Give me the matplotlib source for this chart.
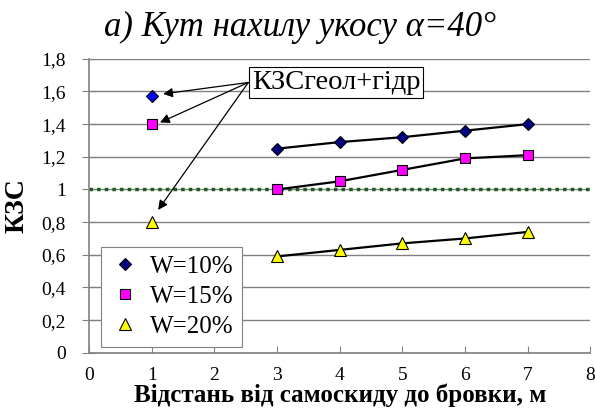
import matplotlib
matplotlib.use('Agg')
import matplotlib.pyplot as plt
from matplotlib.lines import Line2D

# distance from dump truck to the edge, m
x_line = [3, 4, 5, 6, 7]
kzs_10 = [1.25, 1.29, 1.32, 1.36, 1.40]
kzs_15 = [1.00, 1.05, 1.12, 1.19, 1.21]
kzs_20 = [0.59, 0.63, 0.67, 0.70, 0.74]

# geological + hydro points at 1 m
x_geo = [1]
geo_10 = [1.575]
geo_15 = [1.40]
geo_20 = [0.80]

xticks = [0, 1, 2, 3, 4, 5, 6, 7, 8]
yticks = [0, 0.2, 0.4, 0.6, 0.8, 1.0, 1.2, 1.4, 1.6, 1.8]
ytick_labels = ['0', '0,2', '0,4', '0,6', '0,8', '1', '1,2', '1,4', '1,6', '1,8']

FONT = 'Liberation Serif'
plt.rcParams['font.family'] = [FONT, 'DejaVu Serif']

fig = plt.figure(figsize=(5.95, 4.2), dpi=100)
ax = fig.add_axes([0.15, 0.16, 0.842, 0.70])

# reference line KZS = 1
ax.axhline(1.0, color='#1f5a1f', lw=2.5, ls=(0, (1, 1.2)), zorder=2)

ax.plot(x_line, kzs_10, '-', color='black', lw=1.6, marker='D', ms=6.5,
        mfc='#000080', mec='black', mew=0.8, zorder=4)
ax.plot(x_line, kzs_15, '-', color='black', lw=1.6, marker='s', ms=7.5,
        mfc='#ff00ff', mec='black', mew=0.8, zorder=4)
ax.plot(x_line, kzs_20, '-', color='black', lw=1.6, marker='^', ms=8,
        mfc='#ffff00', mec='black', mew=0.8, zorder=4)

ax.plot(x_geo, geo_10, 'D', ms=6.5, mfc='#0000ff', mec='black', mew=0.8, zorder=4)
ax.plot(x_geo, geo_15, 's', ms=7.5, mfc='#ff00ff', mec='black', mew=0.8, zorder=4)
ax.plot(x_geo, geo_20, '^', ms=8, mfc='#ffff00', mec='black', mew=0.8, zorder=4)

# callout
src = (2.54, 1.655)
ax.text(2.6, 1.655, 'КЗСгеол+гідр', fontsize=20.5, family=FONT, ha='left', va='center',
        bbox=dict(boxstyle='square,pad=0.1', fc='white', ec='black', lw=0.8), zorder=6)
for tip in [(1.18, 1.585), (1.13, 1.41), (1.10, 0.875)]:
    ax.annotate('', xy=tip, xytext=src,
                arrowprops=dict(arrowstyle='-|>', color='black', lw=0.9,
                                mutation_scale=14, shrinkA=0, shrinkB=0), zorder=5)

ax.set_xlim(0, 8)
ax.set_ylim(0, 1.8)
ax.set_xticks(xticks)
ax.set_yticks(yticks)
ax.set_yticklabels(ytick_labels)
ax.tick_params(axis='both', labelsize=14, color='#808080', length=5)
ax.tick_params(axis='x', direction='in', pad=10)
ax.tick_params(axis='y', direction='inout', length=10, pad=12)
for lab in ax.get_xticklabels() + ax.get_yticklabels():
    lab.set_family(FONT)
ax.grid(axis='y', color='#808080', lw=1)
ax.set_axisbelow(True)
for s in ['top', 'right']:
    ax.spines[s].set_visible(False)
for s in ['left', 'bottom']:
    ax.spines[s].set_color('#808080')
    ax.spines[s].set_linewidth(1.2)

ax.set_xlabel('Відстань від самоскиду до бровки, м', fontsize=18, family=FONT,
              fontweight='bold', labelpad=0)
ax.set_ylabel('КЗС', fontsize=20, family=FONT, fontweight='bold', labelpad=8)
fig.text(0.505, 0.935, 'а) Кут нахилу укосу α=40°', fontsize=25, family=FONT,
         style='italic', ha='center', va='center')

handles = [
    Line2D([], [], ls='none', marker='D', ms=6.5, mfc='#000080', mec='black', mew=0.8),
    Line2D([], [], ls='none', marker='s', ms=7.5, mfc='#ff00ff', mec='black', mew=0.8),
    Line2D([], [], ls='none', marker='^', ms=8, mfc='#ffff00', mec='black', mew=0.8),
]
leg = ax.legend(handles, ['W=10%', 'W=15%', 'W=20%'], loc='lower left',
                bbox_to_anchor=(0.024, 0.02), borderaxespad=0,
                prop={'family': FONT, 'size': 18}, fancybox=False, edgecolor='#808080',
                framealpha=1, handlelength=1.2, handletextpad=0.4, labelspacing=0.3,
                borderpad=0.35)
leg.get_frame().set_linewidth(0.8)
leg.set_zorder(7)

fig.savefig('out.png', dpi=100)
